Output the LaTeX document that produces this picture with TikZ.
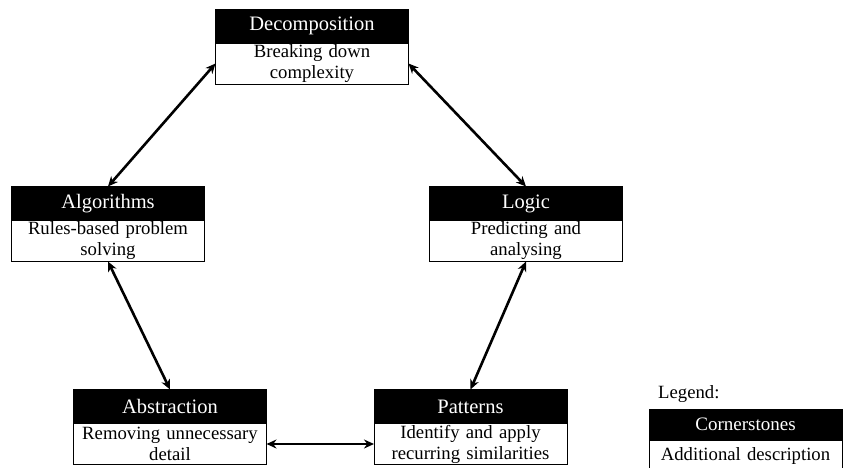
\documentclass[tikz,border=0pt]{standalone}
\usepackage{fontspec}
\setmainfont{Liberation Serif}
\usetikzlibrary{positioning,arrows.meta}

\tikzset{
  head/.style={fill=black, draw=black, text=white, minimum width=193pt, minimum height=34pt,
    inner sep=0pt, outer sep=0pt, font=\fontsize{20.5}{22}\selectfont},
  desc/.style={draw=black, fill=white, minimum width=193pt, minimum height=41pt, text width=185pt,
    align=center, inner sep=0pt, outer sep=0pt, font=\fontsize{18.7}{21}\selectfont},
  link/.style={{Stealth[length=10pt,width=9pt]}-{Stealth[length=10pt,width=9pt]}, line width=2.6pt}
}

\begin{document}
\begin{tikzpicture}[x=1pt,y=-1pt]
\useasboundingbox (0,0) rectangle (854,468);
% cornerstones
\node[head] (decomp) at (312,26) {Decomposition};
\node[desc, below=0pt of decomp] (decomp-d) {Breaking down\\complexity};
\node[head] (alg) at (108,203.5) {Algorithms};
\node[desc, below=0pt of alg] (alg-d) {Rules-based problem\\solving};
\node[head] (logic) at (526,203.5) {Logic};
\node[desc, below=0pt of logic] (logic-d) {Predicting and\\analysing};
\node[head] (abs) at (170,406.5) {Abstraction};
\node[desc, below=0pt of abs] (abs-d) {Removing unnecessary\\detail};
\node[head] (pat) at (470.5,406.5) {Patterns};
\node[desc, below=0pt of pat] (pat-d) {Identify and apply\\recurring similarities};
% links
\draw[link] (decomp-d.west) -- (alg.north);
\draw[link] (decomp-d.east) -- (logic.north);
\draw[link] (alg-d.south) -- (abs.north);
\draw[link] (logic-d.south) -- (pat.north);
\draw[link] (abs-d.east) -- (pat-d.west);
% legend
\node[anchor=base west, inner sep=0pt, font=\fontsize{18.7}{21}\selectfont] (legend) at (658,398) {Legend:};
\node[head, minimum height=31pt, font=\fontsize{19}{21}\selectfont] (key) at (745.5,424.5) {Cornerstones};
\node[desc, minimum height=32pt, below=0pt of key] (key-d) {Additional description};
\end{tikzpicture}
\end{document}
